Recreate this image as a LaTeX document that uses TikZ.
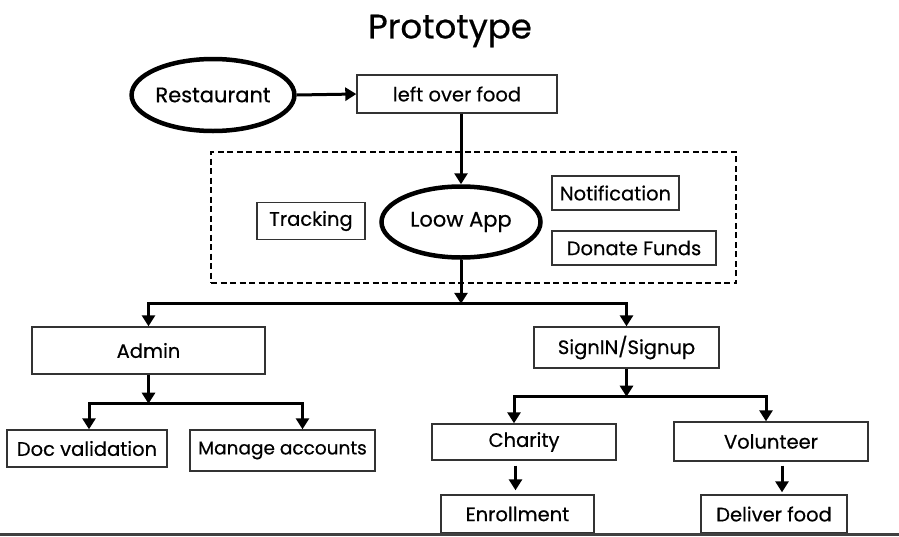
\documentclass[tikz,border=0pt]{standalone}
\usepackage{fontspec}
\setmainfont{Poppins}[FakeBold=0.5]
\usetikzlibrary{positioning, arrows.meta, shapes.geometric}

\begin{document}
\begin{tikzpicture}[
    x=1pt, y=-1pt,
    >={Triangle[width=13pt, length=11pt]},
    fbox/.style={draw=black!80, line width=1.4pt, rectangle, minimum height=37pt, inner sep=0pt, font=\fontsize{19.5}{22}\selectfont},
    oval/.style={draw, ellipse, line width=4.5pt, inner sep=0pt, font=\fontsize{21}{24}\selectfont},
    conn/.style={->, line width=3pt},
    ttl/.style={font=\fontsize{34}{40}\selectfont}
]

% fixed frame, same size as the screenshot
\useasboundingbox (0,0) rectangle (899,536);

% Title
\node[ttl] (title) at (450,31) {Prototype};

% Source
\node[oval, minimum width=161pt, minimum height=72pt] (rest) at (213,95) {Restaurant};
\node[fbox, minimum width=200pt, minimum height=38pt] (food) at (457,94) {left over food};

% App and its features
\node[draw, dashed, line width=1.6pt, dash pattern=on 6pt off 3.5pt, minimum width=525pt, minimum height=131pt] (appbox) at (473.5,217.5) {};
\node[oval, minimum width=159pt, minimum height=71pt] (app) at (461,222) {Loow App};
\node[fbox, minimum width=108pt] (track) at (311,221) {Tracking};
\node[fbox, minimum width=127pt, minimum height=34pt] (notif) at (615.5,193) {Notification};
\node[fbox, minimum width=164pt, minimum height=34pt] (donate) at (634,248) {Donate Funds};

% Users
\node[fbox, minimum width=233pt, minimum height=47pt] (admin) at (148.5,350.5) {Admin};
\node[fbox, minimum width=185pt, minimum height=41pt] (sign) at (626.5,347.5) {SignIN/Signup};

% Admin tasks
\node[fbox, minimum width=160pt] (docval) at (87,448.5) {Doc validation};
\node[fbox, minimum width=185pt, minimum height=41pt, font=\fontsize{18.5}{22}\selectfont] (manage) at (282.5,450.5) {Manage accounts};

% User roles
\node[fbox, minimum width=184pt, minimum height=36pt] (charity) at (524,442) {\raisebox{3pt}{Charity}};
\node[fbox, minimum width=194pt, minimum height=39pt] (vol) at (771,441.5) {Volunteer};
\node[fbox, minimum width=153pt, minimum height=38pt] (enroll) at (517.5,514) {Enrollment};
\node[fbox, minimum width=146pt, minimum height=38pt] (deliver) at (774,514) {Deliver food};

% Split points
\coordinate[below=44pt of app.south] (split1);
\coordinate[below=29pt of admin.south] (split2);
\coordinate[below=28pt of sign.south] (split3);

% Main flow
\draw[conn] (rest.east) -- (food.west);
\draw[conn] (app.north |- food.south) -- (app.north);
\draw[conn] (app.south) -- (split1);
\draw[conn] (split1) -| (admin.north);
\draw[conn] (split1) -| (sign.north);

% Admin branch
\draw[conn] (admin.south) -- (split2);
\draw[conn] (split2) -| ([xshift=2pt]docval.north);
\draw[conn] (split2) -| ([xshift=20pt]manage.north);

% Signup branch
\draw[conn] (sign.south) -- (split3);
\draw[conn] (split3) -| ([xshift=-10pt]charity.north);
\draw[conn] (split3) -| ([xshift=-5pt]vol.north);
\draw[conn, shorten <=5pt, shorten >=4pt] ([xshift=-2pt]enroll.north |- charity.south) -- ([xshift=-2pt]enroll.north);
\draw[conn, shorten <=4pt, shorten >=2pt] ([xshift=8pt]deliver.north |- vol.south) -- ([xshift=8pt]deliver.north);

% bottom edge
\fill[black!75] (0,533) rectangle (899,536);

\end{tikzpicture}
\end{document}
